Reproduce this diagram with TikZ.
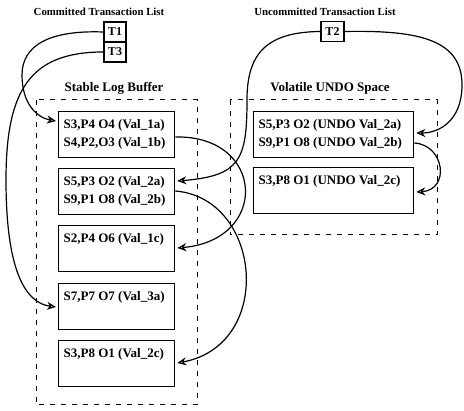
\documentclass[tikz,border=0pt]{standalone}
\usepackage{fontspec}
\setmainfont{Liberation Serif}
\usetikzlibrary{arrows.meta,calc}
\newcommand\boxtext[2][106pt]{\parbox[c][46pt][t]{#1}{\rule{0pt}{17pt}#2}}
\begin{document}
\begin{tikzpicture}[x=1pt,y=-1pt,
  title/.style={font=\fontsize{10.8}{12}\selectfont\bfseries, inner sep=0pt},
  subtitle/.style={font=\fontsize{13}{15}\selectfont\bfseries, inner sep=0pt},
  tbox/.style={draw, line width=1.2pt, minimum width=22pt, minimum height=20pt, inner sep=0pt, font=\fontsize{12}{14}\selectfont\bfseries},
  rec/.style={draw, line width=1.3pt, anchor=north west, inner xsep=5pt, inner ysep=0pt, font=\fontsize{13}{18}\selectfont\bfseries},
  region/.style={draw, line width=1pt, dash pattern=on 5pt off 6pt},
  link/.style={line width=1.2pt, -{Stealth[open, length=9pt, width=8pt]}}
]
\useasboundingbox (0,0) rectangle (464,411);

% titles
\node[title] (ct) at (99,12) {Committed Transaction List};
\node[title] (ut) at (325,12) {Uncommitted Transaction List};
\node[subtitle] (st) at (114,88) {Stable Log Buffer};
\node[subtitle] (vt) at (330,88) {Volatile UNDO Space};

% transaction lists
\node[tbox] (t1) at (115,32) {T1};
\node[tbox] (t3) at (115,52) {T3};
\node[tbox, minimum width=23pt] (t2) at (332.5,31.5) {T2};

% dashed regions
\draw[region] (36,100) rectangle (197,405);
\draw[region] (230,100) rectangle (437,235);

% stable log buffer records
\node[rec] (s1) at (58,111) {\boxtext{S3,P4 O4 (Val\_1a)\\S4,P2,O3 (Val\_1b)}};
\node[rec] (s2) at (58,168) {\boxtext{S5,P3 O2 (Val\_2a)\\S9,P1 O8 (Val\_2b)}};
\node[rec] (s3) at (58,225) {\boxtext{S2,P4 O6 (Val\_1c)}};
\node[rec] (s4) at (58,283) {\boxtext{S7,P7 O7 (Val\_3a)}};
\node[rec] (s5) at (58,340) {\boxtext{S3,P8 O1 (Val\_2c)}};

% volatile undo records
\node[rec] (v1) at (253,111) {\boxtext[150pt]{S5,P3 O2 (UNDO Val\_2a)\\S9,P1 O8 (UNDO Val\_2b)}};
\node[rec] (v2) at (253,167) {\boxtext[150pt]{S3,P8 O1 (UNDO Val\_2c)}};

% connectors
\draw[link] (t1.west) .. controls (50,30) and (22,45) .. (22,75)
  .. controls (22,105) and (38,118) .. ($(s1.north west)+(-2,10)$);
\draw[link] (t3.west) .. controls (30,52) and (6,90) .. (6,180)
  .. controls (6,270) and (25,303) .. ($(s4.north west)+(-2,24)$);
\draw[link] (t2.east) .. controls (420,30) and (462,40) .. (462,85)
  .. controls (462,120) and (440,133) .. ($(v1.north east)+(2,22)$);
\draw[link] (t2.west) .. controls (265,32) and (247,55) .. (247,100)
  .. controls (247,160) and (240,176) .. ($(s2.north east)+(2,13)$);
\draw[link] ($(s1.north east)+(0,26)$) .. controls (265,135) and (270,240) .. ($(s3.north east)+(2,23)$);
\draw[link] ($(s2.north east)+(0,23)$) .. controls (262,198) and (275,345) .. ($(s5.north east)+(2,23)$);
\draw[link] ($(v1.north east)+(0,32)$) .. controls (445,145) and (450,190) .. ($(v2.north east)+(2,25)$);
\end{tikzpicture}
\end{document}
